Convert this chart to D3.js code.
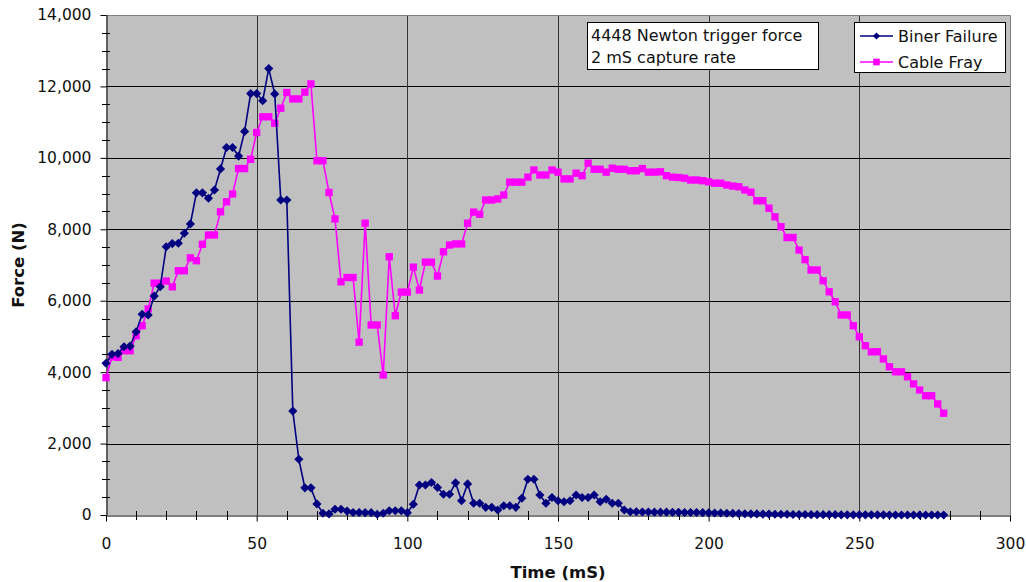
<!DOCTYPE html>
<html>
<head>
<meta charset="utf-8">
<script src="https://cdn.jsdelivr.net/npm/d3@7/dist/d3.min.js"></script>
<style>
  html, body { margin: 0; padding: 0; background: #fff; }
  svg { display: block; font-family: "DejaVu Sans", Verdana, sans-serif; }
</style>
</head>
<body>
<svg id="chart" width="1026" height="582"></svg>
<script>
// ---------- data ----------
const timeStart = 0, timeStep = 2; // ms, 2 mS capture rate
const binerFailure = [
  4250,4500,4520,4710,4730,5130,5620,5600,6130,6390,
  7510,7600,7610,7890,8150,9020,9020,8870,9100,9690,
  10290,10290,10050,10740,11800,11800,11600,12500,11790,8820,
  8820,2910,1560,760,760,310,50,30,160,160,
  110,70,70,65,65,20,50,120,120,120,
  65,300,840,840,910,770,580,580,900,400,
  870,330,330,215,215,140,260,260,215,470,
  1000,1000,560,330,490,400,370,400,560,490,
  490,560,370,440,330,330,140,90,90,85,
  85,80,80,80,75,75,70,70,70,65,
  60,55,55,50,45,40,35,30,30,25,
  25,20,20,20,15,15,15,10,10,10,
  10,10,5,5,5,5,5,5,5,5,
  0,0,0,0,0,0,0,0,0,0
];
const cableFray = [
  3845,4430,4415,4600,4600,5020,5300,5770,6490,6490,
  6550,6390,6840,6840,7200,7120,7580,7840,7840,8490,
  8770,8990,9700,9700,9960,10710,11150,11150,10970,11390,
  11830,11650,11650,11840,12070,9920,9920,9030,8290,6530,
  6650,6650,4840,8170,5320,5320,3920,7230,5580,6240,
  6240,6940,6300,7080,7080,6690,7370,7560,7590,7590,
  8170,8480,8420,8820,8820,8850,8960,9320,9320,9320,
  9460,9660,9520,9520,9660,9600,9410,9410,9570,9500,
  9850,9680,9680,9600,9710,9680,9680,9640,9640,9700,
  9600,9600,9610,9500,9460,9450,9430,9380,9380,9360,
  9330,9290,9290,9240,9210,9190,9100,9040,8800,8800,
  8590,8350,8070,7770,7770,7420,7150,6860,6860,6560,
  6250,5970,5600,5600,5300,4990,4740,4570,4570,4370,
  4150,4010,4010,3870,3670,3500,3340,3340,3110,2850
];
const seriesNames = ["Biner Failure", "Cable Fray"];
const xTicks = [0, 50, 100, 150, 200, 250, 300];
const yTicks = [0, 2000, 4000, 6000, 8000, 10000, 12000, 14000];
const noteLines = ["4448 Newton trigger force", "2 mS capture rate"];
const xTitle = "Time (mS)", yTitle = "Force (N)";

// ---------- layout ----------
const L = 106, R = 1010, T = 15, B = 515;
const svg = d3.select("#chart");
const x = d3.scaleLinear().domain([0, 300]).range([L, R]);
const y = d3.scaleLinear().domain([0, 14000]).range([B, T]);
const tickFont = "15.5px";

// plot background
svg.append("rect").attr("x", L).attr("y", T).attr("width", R - L).attr("height", B - T)
  .attr("fill", "#c0c0c0");

// gridlines
svg.append("g").selectAll("line").data(yTicks.filter(d => d > 0 && d < 14000)).join("line")
  .attr("x1", L).attr("x2", R)
  .attr("y1", d => Math.round(y(d)) + 0.5).attr("y2", d => Math.round(y(d)) + 0.5)
  .attr("stroke", "#000").attr("stroke-width", 1);
svg.append("g").selectAll("line").data(xTicks.filter(d => d > 0 && d < 300)).join("line")
  .attr("y1", T).attr("y2", B)
  .attr("x1", d => Math.round(x(d)) + 0.5).attr("x2", d => Math.round(x(d)) + 0.5)
  .attr("stroke", "#333").attr("stroke-width", 1);

// plot border top/right
svg.append("path")
  .attr("d", `M${L},${T + 0.5}H${R + 0.5}V${B}`)
  .attr("fill", "none").attr("stroke", "#808080").attr("stroke-width", 1);

// minor ticks
const yMinor = d3.range(0, 14001, 500).filter(d => d % 2000 !== 0);
svg.append("g").selectAll("line").data(yMinor).join("line")
  .attr("x1", L - 4).attr("x2", L + 4)
  .attr("y1", d => Math.round(y(d)) + 0.5).attr("y2", d => Math.round(y(d)) + 0.5)
  .attr("stroke", "#000");
const xMinor = d3.range(0, 301, 10).filter(d => d % 50 !== 0);
svg.append("g").selectAll("line").data(xMinor).join("line")
  .attr("y1", B - 4).attr("y2", B + 5)
  .attr("x1", d => Math.round(x(d)) + 0.5).attr("x2", d => Math.round(x(d)) + 0.5)
  .attr("stroke", "#000");

// axes
const yAxis = svg.append("g").attr("transform", `translate(${L + 0.5},0)`)
  .call(d3.axisLeft(y).tickValues(yTicks).tickFormat(d3.format(",")).tickSize(6).tickPadding(9).tickSizeOuter(0));
const xAxis = svg.append("g").attr("transform", `translate(0,${B + 0.5})`)
  .call(d3.axisBottom(x).tickValues(xTicks).tickFormat(d3.format("d")).tickSize(6).tickPadding(16).tickSizeOuter(0));
[yAxis, xAxis].forEach(a => {
  a.select(".domain").attr("stroke", "#000");
  a.selectAll(".tick line").attr("stroke", "#000");
  a.selectAll("text").attr("font-size", tickFont).attr("fill", "#111")
    .attr("font-family", '"DejaVu Sans", Verdana, sans-serif');
});

// axis titles
svg.append("text").attr("transform", `translate(24,${(T + B) / 2}) rotate(-90)`)
  .attr("text-anchor", "middle").attr("font-size", "16.5px").attr("font-weight", "bold")
  .attr("fill", "#111").text(yTitle);
svg.append("text").attr("x", (L + R) / 2).attr("y", 578)
  .attr("text-anchor", "middle").attr("font-size", "16.5px").attr("font-weight", "bold")
  .attr("fill", "#111").text(xTitle);

// series
const colors = ["#000080", "#ff00ff"];
const allSeries = [binerFailure, cableFray];
const line = d3.line().x((d, i) => x(timeStart + i * timeStep)).y(d => y(d));
const diamond = d3.symbol(d3.symbolSquare, 42);
const square = d3.symbol(d3.symbolSquare, 54);

// cable fray first (drawn under), then biner
[1, 0].forEach(si => {
  const g = svg.append("g");
  g.append("path").datum(allSeries[si]).attr("d", line)
    .attr("fill", "none").attr("stroke", colors[si]).attr("stroke-width", 1.6);
  g.selectAll("path.m").data(allSeries[si]).join("path").attr("class", "m")
    .attr("d", si === 0 ? diamond : square)
    .attr("transform", (d, i) => `translate(${x(timeStart + i * timeStep)},${y(d)})` + (si === 0 ? " rotate(45)" : ""))
    .attr("fill", colors[si]);
});

// note box
const note = svg.append("g");
note.append("rect").attr("x", 587.5).attr("y", 22.5).attr("width", 231).attr("height", 47)
  .attr("fill", "#fff").attr("stroke", "#000");
note.selectAll("text").data(noteLines).join("text")
  .attr("x", 591).attr("y", (d, i) => 41 + i * 21.5)
  .attr("font-size", "16px").attr("fill", "#111").text(d => d);

// legend
const leg = svg.append("g");
leg.append("rect").attr("x", 854.5).attr("y", 22.5).attr("width", 151).attr("height", 50)
  .attr("fill", "#fff").attr("stroke", "#000");
seriesNames.forEach((name, i) => {
  const cy = 36 + i * 26;
  leg.append("line").attr("x1", 860).attr("x2", 893).attr("y1", cy).attr("y2", cy)
    .attr("stroke", colors[i]).attr("stroke-width", 1.6);
  leg.append("path").attr("d", i === 0 ? d3.symbol(d3.symbolSquare, 26)() : d3.symbol(d3.symbolSquare, 44)())
    .attr("transform", `translate(876.5,${cy})` + (i === 0 ? " rotate(45)" : ""))
    .attr("fill", colors[i]);
  leg.append("text").attr("x", 898).attr("y", cy + 6)
    .attr("font-size", "16px").attr("fill", "#111").text(name);
});
</script>
</body>
</html>
